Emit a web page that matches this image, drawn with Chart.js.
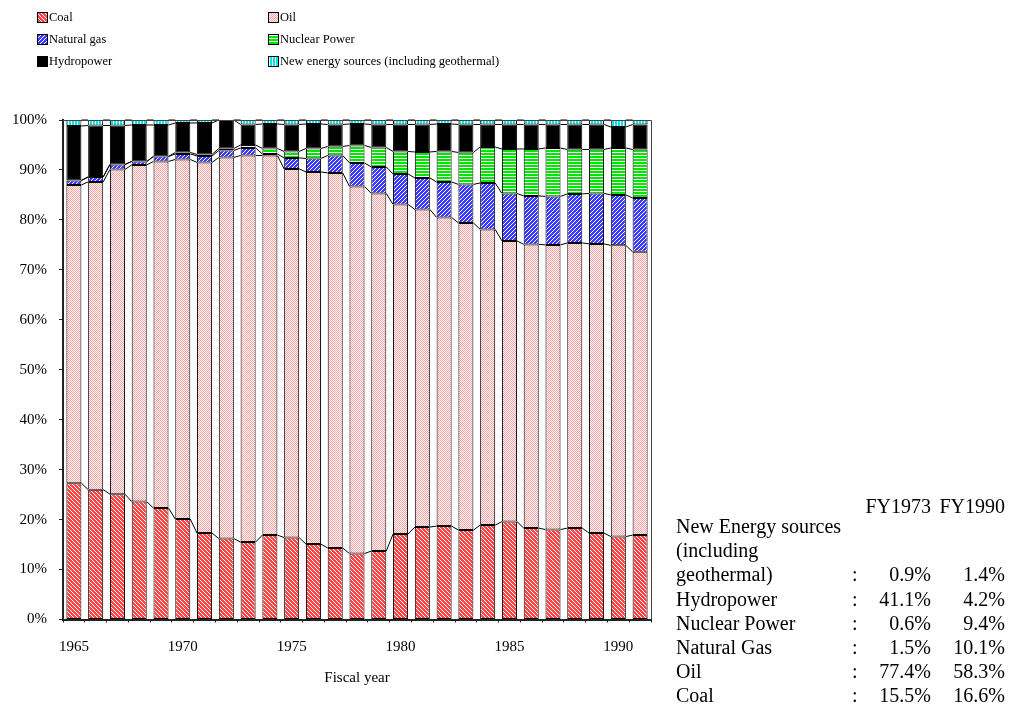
<!DOCTYPE html>
<html>
<head>
<meta charset="utf-8">
<script src="https://cdn.jsdelivr.net/npm/chart.js@4/dist/chart.umd.min.js"></script>
<style>
  html, body { margin: 0; padding: 0; background: #fff; }
  #wrap { position: relative; width: 1016px; height: 705px; overflow: hidden; }
  #c { position: absolute; left: 0; top: 0; }
  .t { position: absolute; font-family: "Liberation Serif", "Times New Roman", serif; font-size: 20px;
       color: #000; line-height: 24px; white-space: nowrap; }
</style>
</head>
<body>
<div id="wrap">
  <canvas id="c" width="1016" height="705"></canvas>
  <div id="table"></div>
</div>
<script>
// Primary energy supply shares by source, fiscal years 1965-1991 (percent)
const years = [1965, 1966, 1967, 1968, 1969, 1970, 1971, 1972, 1973, 1974, 1975, 1976, 1977, 1978,
               1979, 1980, 1981, 1982, 1983, 1984, 1985, 1986, 1987, 1988, 1989, 1990, 1991];
const coal      = [27.3, 26.0, 25.1, 23.6, 22.3, 20.1, 17.3, 16.2, 15.5, 16.9, 16.4, 15.1, 14.3, 13.2,
                   13.7, 17.1, 18.5, 18.7, 17.9, 18.9, 19.6, 18.3, 18.0, 18.3, 17.3, 16.6, 16.9];
const oil       = [59.7, 61.6, 65.0, 67.4, 69.4, 72.0, 74.2, 76.3, 77.4, 76.0, 73.8, 74.5, 75.1, 73.5,
                   71.6, 66.0, 63.6, 61.8, 61.5, 59.2, 56.2, 56.8, 57.0, 57.1, 57.9, 58.3, 56.7];
const naturalGas = [0.9, 1.0, 1.0, 0.7, 1.0, 1.1, 1.3, 1.4, 1.5, 0.3, 2.2, 2.7, 3.5, 4.7,
                   5.3, 6.1, 6.3, 7.1, 7.7, 9.3, 9.5, 9.7, 9.7, 9.8, 10.1, 10.1, 10.8];
const nuclear   = [0, 0, 0, 0, 0, 0.3, 0.3, 0.4, 0.6, 1.1, 1.3, 2.0, 1.8, 3.5,
                   3.9, 4.5, 5.2, 6.1, 6.4, 7.2, 8.9, 9.4, 9.7, 8.9, 8.8, 9.4, 9.7];
const hydro     = [10.9, 10.3, 7.8, 7.3, 6.3, 5.9, 6.3, 5.7, 4.1, 4.9, 5.4, 4.9, 4.4, 4.3,
                   4.6, 5.4, 5.5, 5.5, 5.6, 4.5, 4.9, 4.9, 4.7, 5.0, 5.0, 4.2, 5.0];
const newEnergy = [1.2, 1.1, 1.1, 1.0, 1.0, 0.6, 0.6, 0, 0.9, 0.8, 0.9, 0.8, 0.9, 0.8,
                   0.9, 0.9, 0.9, 0.8, 0.9, 0.9, 0.9, 0.9, 0.9, 0.9, 0.9, 1.4, 0.9];

const seriesNames = ["Coal", "Oil", "Natural gas", "Nuclear Power", "Hydropower",
                     "New energy sources (including geothermal)"];
const yTickValues = [0, 10, 20, 30, 40, 50, 60, 70, 80, 90, 100];
const labelEvery = 5;

// Side table of FY1973 / FY1990 shares
const tableHeader = ["FY1973", "FY1990"];
const tableLabels = ["New Energy sources", "(including", "geothermal)", "Hydropower",
                     "Nuclear Power", "Natural Gas", "Oil", "Coal"];
const tableFY1973 = ["", "", "0.9%", "41.1%", "0.6%", "1.5%", "77.4%", "15.5%"];
const tableFY1990 = ["", "", "1.4%", "4.2%", "9.4%", "10.1%", "58.3%", "16.6%"];

const FONT = '"Liberation Serif", "Times New Roman", serif';

// Small tiled fill patterns
function makePattern(w, h, bg, fg, pts) {
  const cv = document.createElement('canvas');
  cv.width = w; cv.height = h;
  const g = cv.getContext('2d');
  g.fillStyle = bg; g.fillRect(0, 0, w, h);
  g.fillStyle = fg;
  pts.forEach(p => g.fillRect(p[0], p[1], 1, 1));
  return g.createPattern(cv, 'repeat');
}
const ctx = document.getElementById('c').getContext('2d');
const fills = [
  makePattern(4, 4, '#ff4646', '#ffffff', [[0,0],[1,1],[2,2],[3,3]]),
  makePattern(2, 2, '#ffffff', '#ffa0a0', [[0,0],[1,1]]),
  makePattern(4, 4, '#3c3cff', '#ffffff', [[3,0],[2,1],[1,2],[0,3]]),
  makePattern(1, 3, '#00e600', '#ffffff', [[0,2]]),
  '#000000',
  makePattern(3, 1, '#00e5e5', '#ffffff', [[2,0]])
];
const values = [coal, oil, naturalGas, nuclear, hydro, newEnergy];

const datasets = values.map((v, i) => ({
  label: seriesNames[i],
  data: v,
  backgroundColor: fills[i],
  borderColor: '#000',
  borderWidth: 1,
  borderSkipped: false,
  categoryPercentage: 1.0,
  barPercentage: 0.69
}));

// Lines joining the top of each stacked segment to the same segment of the next bar
const seriesLines = {
  id: 'seriesLines',
  afterDatasetsDraw(chart) {
    const c = chart.ctx;
    c.save();
    c.strokeStyle = '#000';
    c.lineWidth = 1;
    chart.data.datasets.forEach((ds, d) => {
      const meta = chart.getDatasetMeta(d);
      for (let i = 0; i < meta.data.length - 1; i++) {
        const a = meta.data[i], b = meta.data[i + 1];
        c.beginPath();
        c.moveTo(a.x + a.width / 2, a.y);
        c.lineTo(b.x - b.width / 2, b.y);
        c.stroke();
      }
    });
    // plot frame (top and right)
    const ca = chart.chartArea;
    c.strokeStyle = '#444';
    c.beginPath();
    c.moveTo(ca.left, ca.top + 0.5);
    c.lineTo(ca.right + 0.5, ca.top + 0.5);
    c.lineTo(ca.right + 0.5, ca.bottom);
    c.stroke();
    c.restore();
  }
};

// Two-column legend above the plot
const topLegend = {
  id: 'topLegend',
  afterDraw(chart) {
    const c = chart.ctx;
    const colX = [37, 268];
    const rowY = [17, 39, 61];
    c.save();
    c.font = '12.5px ' + FONT;
    c.textBaseline = 'middle';
    c.fillStyle = '#000';
    chart.data.datasets.forEach((ds, i) => {
      const x = colX[i % 2], y = rowY[Math.floor(i / 2)];
      c.fillStyle = ds.backgroundColor;
      c.fillRect(x, y - 5, 10, 10);
      c.strokeStyle = '#000';
      c.lineWidth = 1;
      c.strokeRect(x + 0.5, y - 4.5, 10, 10);
      c.fillStyle = '#000';
      c.fillText(ds.label, x + 12, y + 1);
    });
    c.restore();
  }
};

new Chart(ctx, {
  type: 'bar',
  data: { labels: years.map(String), datasets },
  options: {
    responsive: false,
    animation: false,
    devicePixelRatio: 1,
    layout: { padding: { left: 0, top: 120, right: 365, bottom: 0 } },
    plugins: { legend: { display: false }, tooltip: { enabled: false } },
    scales: {
      x: {
        stacked: true,
        offset: true,
        afterFit: s => { s.height = 85.5; },
        border: { display: true, color: '#222', width: 2 },
        grid: { display: true, drawOnChartArea: false, drawTicks: true, tickLength: 3, color: '#222', offset: true },
        ticks: {
          autoSkip: false, maxRotation: 0, minRotation: 0, padding: 16,
          color: '#000', font: { family: FONT, size: 15 },
          callback: (v, i) => (years[i] % labelEvery === 0 ? String(years[i]) : '')
        },
        title: { display: true, text: 'Fiscal year', color: '#000',
                 font: { family: FONT, size: 15 }, padding: { top: 0, bottom: 18 } }
      },
      y: {
        stacked: true,
        min: 0, max: 100,
        afterFit: s => { s.width = 63; },
        afterBuildTicks: s => { s.ticks = yTickValues.map(v => ({ value: v })); },
        border: { display: true, color: '#222', width: 2 },
        grid: { display: true, drawOnChartArea: false, drawTicks: true, tickLength: 4, color: '#222' },
        ticks: { padding: 12, color: '#000', font: { family: FONT, size: 15 }, callback: v => v + '%' }
      }
    }
  },
  plugins: [seriesLines, topLegend]
});

// Side table
const table = document.getElementById('table');
function addText(txt, style) {
  const d = document.createElement('div');
  d.className = 't';
  d.textContent = txt;
  Object.assign(d.style, style);
  table.appendChild(d);
}
const headerY = 506, rowY0 = 526, rowStep = 24.2;
addText(tableHeader[0], { right: (1016 - 931) + 'px', top: (headerY - 12) + 'px' });
addText(tableHeader[1], { right: (1016 - 1005) + 'px', top: (headerY - 12) + 'px' });
tableLabels.forEach((lab, i) => {
  const top = (rowY0 + i * rowStep - 12) + 'px';
  addText(lab, { left: '676px', top });
  if (tableFY1973[i] !== '') {
    addText(':', { left: '852px', top });
    addText(tableFY1973[i], { right: (1016 - 931) + 'px', top });
    addText(tableFY1990[i], { right: (1016 - 1005) + 'px', top });
  }
});
</script>
</body>
</html>
